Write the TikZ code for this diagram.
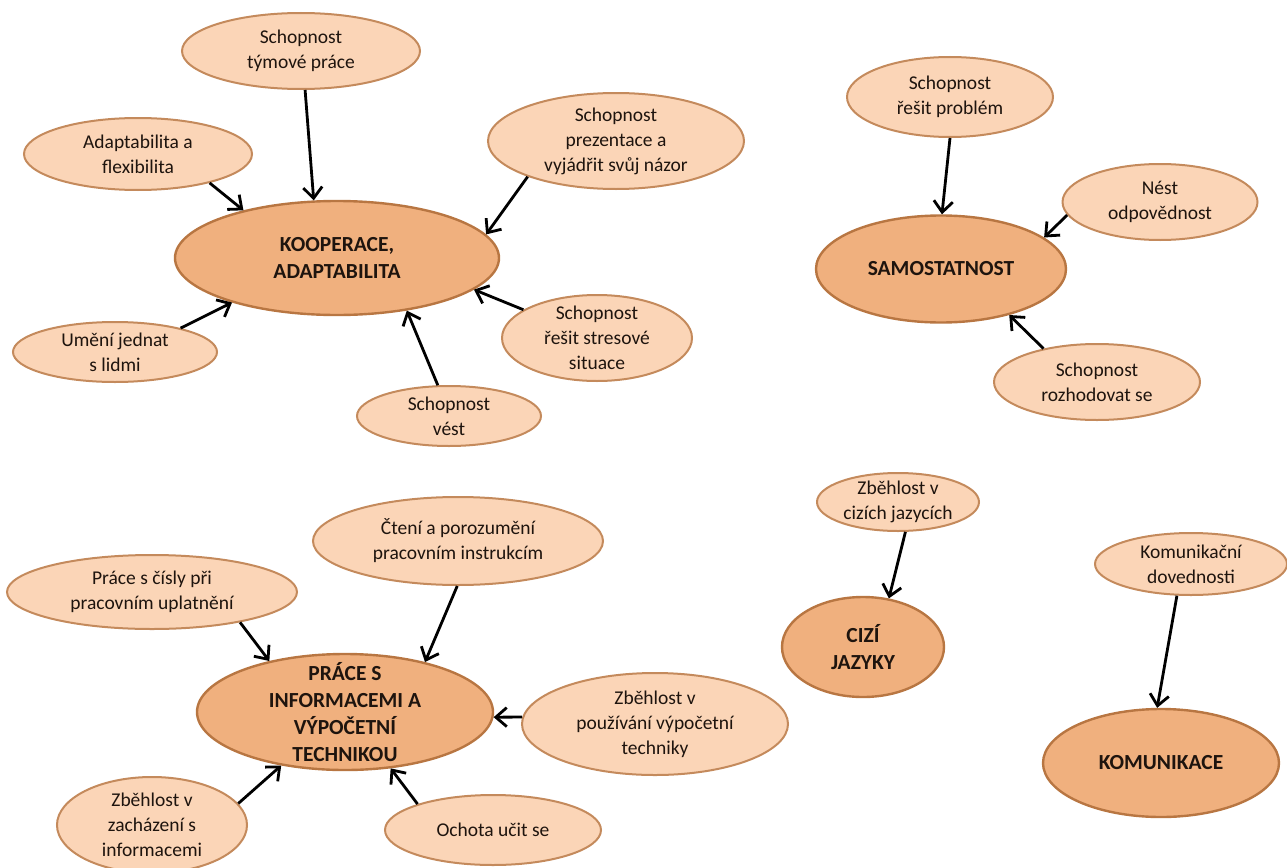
\documentclass[tikz,border=0pt]{standalone}
\usepackage{fontspec}
\setmainfont{Carlito}
\usetikzlibrary{shapes.geometric,arrows.meta}
\definecolor{mainfill}{RGB}{240,176,126}
\definecolor{mainborder}{RGB}{184,118,66}
\definecolor{smallfill}{RGB}{251,213,183}
\definecolor{smallborder}{RGB}{196,138,92}
\definecolor{txtcol}{RGB}{30,20,14}
\tikzset{
  mainell/.style={ellipse, draw=mainborder, fill=mainfill, line width=2.4pt, inner sep=0pt},
  smallell/.style={ellipse, draw=smallborder, fill=smallfill, line width=2pt, inner sep=0pt},
  maintxt/.style={align=center, text=txtcol, inner sep=0pt, font=\fontsize{21.5}{27}\selectfont\bfseries},
  smalltxt/.style={align=center, text=txtcol, inner sep=0pt, font=\fontsize{19.5}{25}\selectfont},
  conn/.style={line width=2.8pt, black, -{Straight Barb[length=11pt,width=19pt,line width=2.8pt]}},
}
\begin{document}
\begin{tikzpicture}[x=1pt,y=-1pt]
\useasboundingbox (0,0) rectangle (1287,867);
% ---- ellipses (width/height = 2rx/2ry) ----
\node[smallell, minimum width=238pt, minimum height=76pt] (tym) at (301,51) {};
\node[smallell, minimum width=228pt, minimum height=72pt] (adapt) at (138,154) {};
\node[smallell, minimum width=256pt, minimum height=96pt] (prez) at (616,141) {};
\node[mainell, minimum width=324pt, minimum height=114pt] (K) at (337,258) {};
\node[smallell, minimum width=204pt, minimum height=60pt] (umeni) at (115,352) {};
\node[smallell, minimum width=190pt, minimum height=86pt] (stres) at (597,338) {};
\node[smallell, minimum width=184pt, minimum height=60pt] (vest) at (449,416) {};
\node[smallell, minimum width=206pt, minimum height=80pt] (problem) at (950,97) {};
\node[smallell, minimum width=195pt, minimum height=76pt] (nest) at (1160,202) {};
\node[mainell, minimum width=250pt, minimum height=107pt] (S) at (941,269) {};
\node[smallell, minimum width=206pt, minimum height=76pt] (rozh) at (1097,382) {};
\node[smallell, minimum width=290pt, minimum height=88pt] (cteni) at (458,541) {};
\node[smallell, minimum width=162pt, minimum height=58pt] (ciziz) at (898,502) {};
\node[smallell, minimum width=290pt, minimum height=74pt] (cisla) at (152,592) {};
\node[smallell, minimum width=192pt, minimum height=62pt] (komd) at (1191,564) {};
\node[mainell, minimum width=162pt, minimum height=100pt] (C) at (863,647) {};
\node[mainell, minimum width=296pt, minimum height=116pt] (P) at (345,712) {};
\node[smallell, minimum width=266pt, minimum height=102pt] (pouz) at (655,724) {};
\node[mainell, minimum width=236pt, minimum height=108pt] (KOM) at (1161,763) {};
\node[smallell, minimum width=190pt, minimum height=96pt] (zach) at (152,825) {};
\node[smallell, minimum width=216pt, minimum height=70pt] (ochota) at (493,830) {};
% ---- texts ----
\node[smalltxt] (tym-t) at (tym) {Schopnost\\týmové práce};
\node[smalltxt] (adapt-t) at (adapt) {Adaptabilita a\\flexibilita};
\node[smalltxt] (prez-t) at (prez) {Schopnost\\prezentace a\\vyjádřit svůj názor};
\node[maintxt] (K-t) at (K) {KOOPERACE,\\ADAPTABILITA};
\node[smalltxt] (umeni-t) at (umeni) {Umění jednat\\s lidmi};
\node[smalltxt] (stres-t) at (stres) {Schopnost\\řešit stresové\\situace};
\node[smalltxt] (vest-t) at (vest) {Schopnost\\vést};
\node[smalltxt] (problem-t) at (problem) {Schopnost\\řešit problém};
\node[smalltxt] (nest-t) at (nest) {Nést\\odpovědnost};
\node[maintxt] (S-t) at (S) {SAMOSTATNOST};
\node[smalltxt] (rozh-t) at (rozh) {Schopnost\\rozhodovat se};
\node[smalltxt] (cteni-t) at (cteni) {Čtení a porozumění\\pracovním instrukcím};
\node[smalltxt] (ciziz-t) at (ciziz) {Zběhlost v\\cizích jazycích};
\node[smalltxt] (cisla-t) at (cisla) {Práce s čísly při\\pracovním uplatnění};
\node[smalltxt] (komd-t) at (komd) {Komunikační\\dovednosti};
\node[maintxt] (C-t) at (C) {CIZÍ\\JAZYKY};
\node[maintxt] (P-t) at (P) {PRÁCE S\\INFORMACEMI A\\VÝPOČETNÍ\\TECHNIKOU};
\node[smalltxt] (pouz-t) at (pouz) {Zběhlost v\\používání výpočetní\\techniky};
\node[maintxt] (KOM-t) at (KOM) {KOMUNIKACE};
\node[smalltxt] (zach-t) at (zach) {Zběhlost v\\zacházení s\\informacemi};
\node[smalltxt] (ochota-t) at (ochota) {Ochota učit se};
% ---- connectors ----
\draw[conn] (tym.-84) -- (K.112);
\draw[conn] (adapt.-22) -- (K.153);
\draw[conn] (prez.-158) -- (K.9);
\draw[conn] (umeni.20) -- (K.-157);
\draw[conn] (stres.159) -- (K.-13);
\draw[conn] (vest.110) -- (K.-37);
\draw[conn] (problem.-90) -- (S.89);
\draw[conn] (nest.-172) -- (S.17);
\draw[conn] (rozh.148) -- (S.-34);
\draw[conn] (cteni.-91) -- (P.32);
\draw[conn] (cisla.-19) -- (P.146);
\draw[conn] (pouz.177) -- (P.-2);
\draw[conn] (zach.14) -- (P.-140);
\draw[conn] (ochota.161) -- (P.-51);
\draw[conn] (ciziz.-76) -- (C.62);
\draw[conn] (komd.-114) -- (KOM.94);
\end{tikzpicture}
\end{document}
